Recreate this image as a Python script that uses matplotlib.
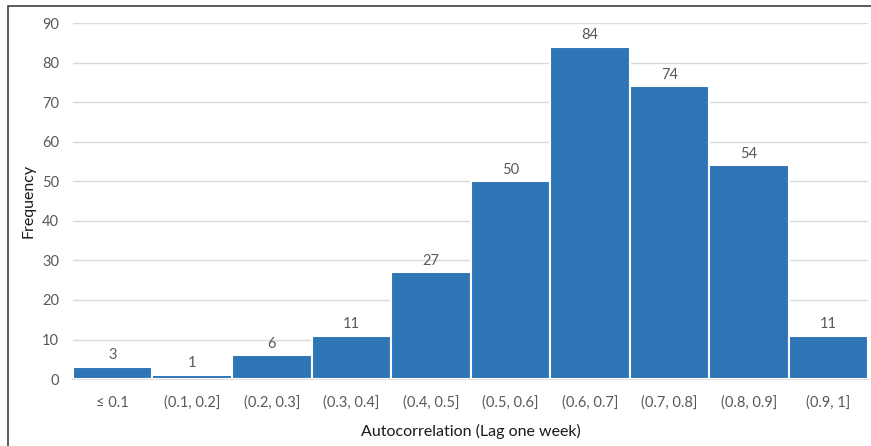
import matplotlib.pyplot as plt
from matplotlib.patches import Rectangle

plt.rcParams['font.family'] = ['Lato', 'DejaVu Sans']

bins = ["≤ 0.1", "(0.1, 0.2]", "(0.2, 0.3]", "(0.3, 0.4]", "(0.4, 0.5]",
        "(0.5, 0.6]", "(0.6, 0.7]", "(0.7, 0.8]", "(0.8, 0.9]", "(0.9, 1]"]
counts = [3, 1, 6, 11, 27, 50, 84, 74, 54, 11]
yticks = [0, 10, 20, 30, 40, 50, 60, 70, 80, 90]

fig = plt.figure(figsize=(8.71, 4.46), dpi=100)
ax = fig.add_axes([0.0838, 0.150, 0.9128, 0.7984])

x = range(len(bins))
bars = ax.bar(x, counts, width=1.0, color="#2E75B6", edgecolor="white",
              linewidth=1.5, zorder=3)
for b, c in zip(bars, counts):
    ax.text(b.get_x() + b.get_width() / 2, c + 1.2, str(c), ha="center",
            va="bottom", fontsize=10.5, color="#595959")

ax.set_xlim(-0.5, len(bins) - 0.5)
ax.set_ylim(0, 90)
ax.set_yticks(yticks)
ax.set_xticks(list(x))
ax.set_xticklabels(bins)
ax.tick_params(axis="both", length=0, labelsize=10.5, colors="#595959")
ax.tick_params(axis="x", pad=12)
ax.tick_params(axis="y", pad=10)
ax.grid(axis="y", color="#D9D9D9", linewidth=1, zorder=0)
for s in ["top", "right", "left"]:
    ax.spines[s].set_visible(False)
ax.spines["bottom"].set_color("#D9D9D9")
ax.spines["bottom"].set_linewidth(1.2)

ax.set_xlabel("Autocorrelation (Lag one week)", fontsize=11.5, color="#1a1a1a",
              labelpad=10)
ax.set_ylabel("Frequency", fontsize=11.5, color="#1a1a1a", labelpad=5)

# outer frame of the chart area
fig.patches.append(Rectangle((8 / 871, -0.1), 1.2, 1 - 6 / 446 + 0.1,
                             transform=fig.transFigure, fill=False,
                             edgecolor="#404040", linewidth=1.2))

fig.savefig("out.png", dpi=100)
